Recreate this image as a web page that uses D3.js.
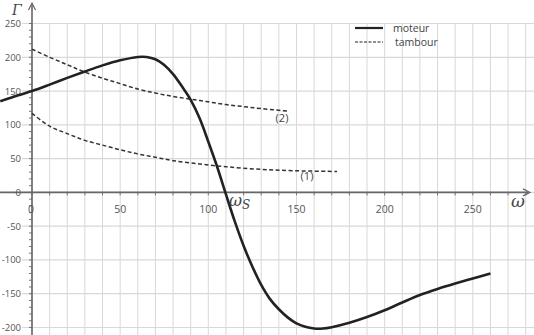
<!DOCTYPE html>
<html><head><meta charset="utf-8">
<script src="https://cdn.jsdelivr.net/npm/d3@7"></script>
<style>body{margin:0;background:#fff}svg{display:block}</style>
</head><body>
<svg id="c" width="534" height="335"></svg>
<script>
const xTicks = [0, 50, 100, 150, 200, 250];
const yTicks = [-200, -150, -100, -50, 0, 50, 100, 150, 200, 250];
const moteurOmega = [-18, -10, 0, 10, 20, 30, 40, 50, 60, 65, 70, 75, 80, 85, 90, 95, 100, 105, 110, 115, 120, 125, 130, 135, 140, 145, 150, 155, 160, 165, 170, 180, 190, 200, 210, 220, 230, 240, 250, 260];
const moteurGamma = [135, 142, 150, 159.5, 169.5, 179, 188, 195.5, 200.5, 200.5, 197, 188.5, 175, 157, 137, 110, 75, 38, -3, -43, -79, -110, -137, -158, -173, -185, -194, -199, -201.5, -201.5, -199.5, -193, -184.5, -174.5, -163, -152, -143, -135, -127.5, -120];
const tambour2Omega = [0, 10, 20, 28, 40, 50, 60, 70, 80, 90, 100, 110, 120, 130, 146];
const tambour2Gamma = [212, 200, 189, 180, 169, 161, 153, 147, 142, 138, 134, 130, 127, 124, 120];
const tambour1Omega = [0, 10, 20, 30, 40, 50, 60, 70, 80, 95, 110, 130, 150, 173];
const tambour1Gamma = [117, 98, 87, 77, 70, 63, 57, 52, 47, 42, 38, 34, 32, 31];
const legendLabels = ["moteur", "tambour"];

const svg = d3.select("#c");
const x = d3.scaleLinear().domain([0, 250]).range([32, 472.8]);
const y = d3.scaleLinear().domain([-200, 250]).range([327.5, 23.5]);

// grid
const g = svg.append("g");
const vg = d3.range(0, 290, 10);
g.selectAll(".vg").data(vg).enter().append("line")
  .attr("x1", d => x(d)).attr("x2", d => x(d))
  .attr("y1", y(250)).attr("y2", 335)
  .attr("stroke", "#d8d8d8").attr("stroke-width", 1);
g.selectAll(".hg").data(yTicks).enter().append("line")
  .attr("x1", 22).attr("x2", 534)
  .attr("y1", d => y(d)).attr("y2", d => y(d))
  .attr("stroke", "#d8d8d8").attr("stroke-width", 1.2);

// minor ticks on y axis
svg.append("g").selectAll("line").data(d3.range(-200, 251, 10)).enter().append("line")
  .attr("x1", x(0) - 3).attr("x2", x(0))
  .attr("y1", d => y(d)).attr("y2", d => y(d))
  .attr("stroke", "#777").attr("stroke-width", 1);
// ticks on x axis
svg.append("g").selectAll("line").data(vg).enter().append("line")
  .attr("x1", d => x(d)).attr("x2", d => x(d))
  .attr("y1", y(0)).attr("y2", y(0) + 3)
  .attr("stroke", "#777").attr("stroke-width", 1);

// axes
svg.append("line").attr("x1", 0).attr("x2", 528).attr("y1", y(0)).attr("y2", y(0))
  .attr("stroke", "#666").attr("stroke-width", 1.6);
svg.append("line").attr("x1", x(0)).attr("x2", x(0)).attr("y1", 5).attr("y2", 335)
  .attr("stroke", "#666").attr("stroke-width", 1.6);
svg.append("path").attr("d", `M${523},${y(0)-3.5} L${530},${y(0)} L${523},${y(0)+3.5}`)
  .attr("fill", "none").attr("stroke", "#666").attr("stroke-width", 1.2);
svg.append("path").attr("d", `M${x(0)-3.5},${10} L${x(0)},${3} L${x(0)+3.5},${10}`)
  .attr("fill", "none").attr("stroke", "#666").attr("stroke-width", 1.2);

// tick labels
svg.append("g").selectAll("text").data(yTicks).enter().append("text")
  .attr("x", 21).attr("y", d => y(d) + 3.5).attr("text-anchor", "end")
  .attr("font-family", "Open Sans, sans-serif").attr("font-size", 9.5).attr("fill", "#555")
  .text(d => d);
svg.append("g").selectAll("text").data(xTicks).enter().append("text")
  .attr("x", d => x(d) + (d === 0 ? -1 : 0)).attr("y", y(0) + 21).attr("text-anchor", "middle")
  .attr("font-family", "Open Sans, sans-serif").attr("font-size", 10.5).attr("fill", "#555")
  .text(d => d);

// curves
const line = d3.line().x(d => x(d[0])).y(d => y(d[1])).curve(d3.curveCatmullRom.alpha(0.5));
svg.append("path").datum(d3.zip(tambour2Omega, tambour2Gamma)).attr("d", line)
  .attr("fill", "none").attr("stroke", "#333").attr("stroke-width", 1.5).attr("stroke-dasharray", "4,2.5");
svg.append("path").datum(d3.zip(tambour1Omega, tambour1Gamma)).attr("d", line)
  .attr("fill", "none").attr("stroke", "#333").attr("stroke-width", 1.5).attr("stroke-dasharray", "4,2.5");
svg.append("path").datum(d3.zip(moteurOmega, moteurGamma)).attr("d", line)
  .attr("fill", "none").attr("stroke", "#222").attr("stroke-width", 2.6);

// curve labels
svg.append("text").attr("x", 282).attr("y", 122).attr("text-anchor", "middle")
  .attr("font-family", "Open Sans, sans-serif").attr("font-size", 11).attr("fill", "#444").text("(2)");
svg.append("text").attr("x", 307).attr("y", 180).attr("text-anchor", "middle")
  .attr("font-family", "Open Sans, sans-serif").attr("font-size", 11).attr("fill", "#444").text("(1)");

// axis names
svg.append("text").attr("x", 12).attr("y", 15).attr("font-family", "DejaVu Serif, serif")
  .attr("font-style", "italic").attr("font-size", 14).attr("fill", "#444").text("Γ");
svg.append("text").attr("x", 511).attr("y", 207).attr("font-family", "DejaVu Serif, serif")
  .attr("font-style", "italic").attr("font-size", 17).attr("fill", "#444").text("ω");
const ws = svg.append("text").attr("x", 229).attr("y", 206).attr("font-family", "DejaVu Serif, serif")
  .attr("font-style", "italic").attr("font-size", 16).attr("fill", "#444");
ws.append("tspan").text("ω");
ws.append("tspan").attr("font-size", 12).attr("dy", 3).text("S");

// legend
const lg = svg.append("g");
legendLabels.forEach((t, i) => {
  const ly = 28 + i * 14;
  lg.append("line").attr("x1", 355).attr("x2", 383).attr("y1", ly).attr("y2", ly)
    .attr("stroke", "#222").attr("stroke-width", i === 0 ? 2.2 : 1.1)
    .attr("stroke-dasharray", i === 0 ? null : "3,1.5");
  lg.append("text").attr("x", i === 0 ? 393 : 395).attr("y", ly + 4)
    .attr("font-family", "Open Sans, sans-serif").attr("font-size", 10.5).attr("fill", "#444").text(t);
});
</script>
</body></html>
